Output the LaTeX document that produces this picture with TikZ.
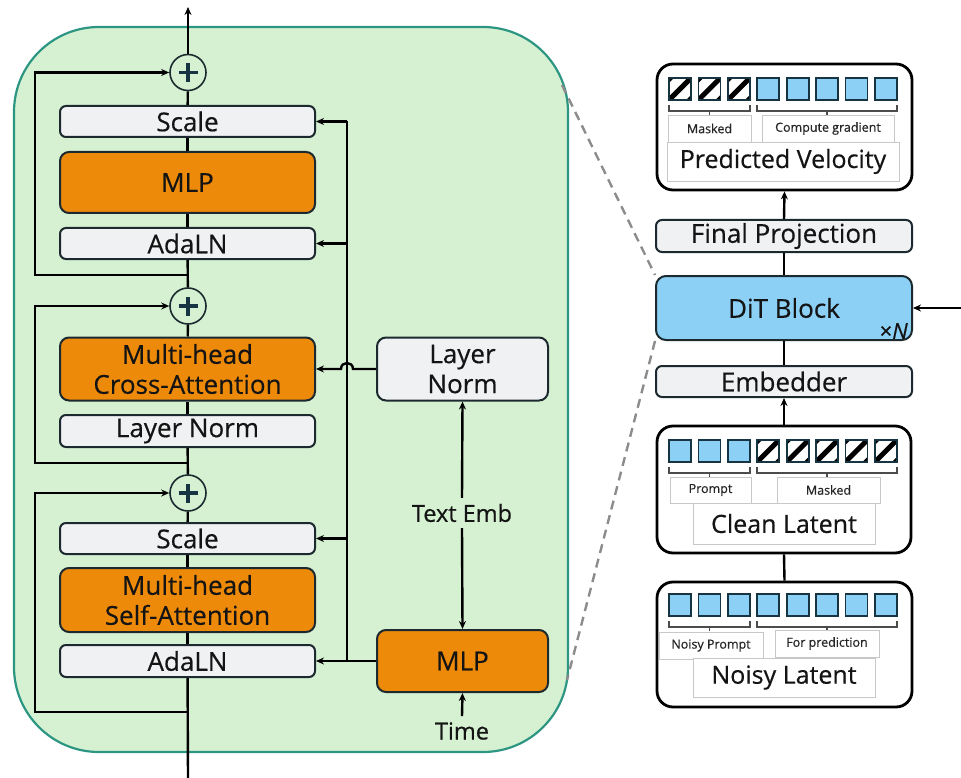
\documentclass[tikz,border=0pt]{standalone}
\usepackage{fontspec}
\setmainfont{Open Sans}
\newfontfamily\medfont{Open Sans}[FakeBold=0.45]
\usetikzlibrary{arrows.meta}

\definecolor{blkgreen}{RGB}{214,241,210}
\definecolor{blkedge}{RGB}{44,150,130}
\definecolor{orng}{RGB}{238,138,10}
\definecolor{lgray}{RGB}{240,241,243}
\definecolor{edgedark}{RGB}{28,42,48}
\definecolor{tokblue}{RGB}{140,208,245}
\definecolor{tokedge}{RGB}{22,52,66}
\definecolor{dashgray}{RGB}{140,140,140}
\definecolor{lblgray}{RGB}{200,200,200}
\definecolor{ink}{RGB}{20,20,20}

\tikzset{
  container/.style={draw=blkedge, line width=2.2pt, fill=blkgreen, rounded corners=85pt},
  base/.style={draw=edgedark, line width=2pt, rounded corners=6pt, text=ink,
    inner sep=0pt, align=center, font=\medfont\fontsize{26}{30}\selectfont},
  thinbox/.style={base, fill=lgray, minimum width=255pt, minimum height=31pt},
  tallbox/.style={base, fill=orng, minimum width=255pt, minimum height=63pt, rounded corners=9pt},
  sidebox/.style={base, minimum width=171pt, minimum height=63pt, rounded corners=9pt},
  plusnode/.style={circle, draw=edgedark, line width=1.6pt, fill=blkgreen, minimum size=36pt, inner sep=0pt,
    path picture={
      \draw[line width=3.2pt, draw=tokedge]
        ([xshift=-9.5pt]path picture bounding box.center) -- ([xshift=9.5pt]path picture bounding box.center)
        ([yshift=-9.5pt]path picture bounding box.center) -- ([yshift=9.5pt]path picture bounding box.center);}},
  conn/.style={draw=black, line width=2.4pt},
  arr/.style={conn, -{Stealth[length=8pt,width=7pt]}},
  sidelab/.style={text=ink, inner sep=6pt, font=\medfont\fontsize{23.5}{26}\selectfont},
  dashln/.style={draw=dashgray, line width=2.4pt, dash pattern=on 9pt off 6pt},
  outerbox/.style={draw=black, line width=2.8pt, fill=white, rounded corners=16pt, inner sep=0pt},
  colbox/.style={base, fill=lgray, minimum width=256pt, minimum height=32pt},
  ditbox/.style={base, fill=tokblue, minimum width=256pt, minimum height=64pt, rounded corners=10pt},
  lbl/.style={draw=lblgray, line width=0.8pt, fill=white, inner sep=0pt, text=black!85,
    font=\medfont\fontsize{12.5}{14}\selectfont},
  lblbig/.style={lbl, text=ink, font=\medfont\fontsize{25}{28}\selectfont},
  brk/.style={draw=black!70, line width=1.2pt},
}

% token squares of the latent rows
\newcommand\tokb[2]{\filldraw[fill=tokblue, draw=tokedge, line width=1.8pt] (#1,#2) rectangle ++(22,22);}
\newcommand\tokh[2]{%
  \begin{scope}
    \clip (#1,#2) rectangle ++(22,22);
    \fill[white] (#1,#2) rectangle ++(22,22);
    \draw[line width=5pt] (#1,#2+22) -- ++(22,-22);
    \draw[line width=7pt] (#1-10,#2+10) -- ++(20,-20);
    \draw[line width=7pt] (#1+12,#2+32) -- ++(20,-20);
  \end{scope}
  \draw[tokedge, line width=1.8pt] (#1,#2) rectangle ++(22,22);}
% bracket under a group of tokens
\newcommand\brkt[3]{%
  \draw[brk] (#1,#3) -- (#1,#3+6) -- (#2,#3+6) -- (#2,#3);
  \draw[brk] ({(#1+#2)/2},#3+6) -- ++(0,4);}

\begin{document}
\begin{tikzpicture}[x=1pt,y=-1pt]
\useasboundingbox (0,0) rectangle (961,778);

% ---------- DiT block (detail) ----------
\node[container, minimum width=554pt, minimum height=725pt] (blk) at (291,389.5) {};

\node[plusnode] (plus1) at (188,72.5) {};
\node[thinbox] (scale1) at (187.5,121.5) {Scale};
\node[tallbox, minimum height=61pt] (mlp1) at (187.5,182.5) {MLP};
\node[thinbox] (ada1) at (187.5,243.5) {AdaLN};
\node[plusnode] (plus2) at (188,306) {};
\node[tallbox] (cross) at (187.5,369) {Multi-head\\Cross-Attention};
\node[thinbox, minimum height=32pt] (ln1) at (187.5,431) {Layer Norm};
\node[plusnode] (plus3) at (188,493) {};
\node[thinbox] (scale2) at (187.5,538.5) {Scale};
\node[tallbox, minimum height=64pt] (self) at (187.5,600) {Multi-head\\Self-Attention};
\node[thinbox, minimum height=32pt] (ada2) at (187.5,661) {AdaLN};

\node[sidebox, fill=lgray] (lnR) at (462.5,369) {Layer\\Norm};
\node[sidebox, fill=orng, minimum height=62pt] (mlpR) at (462.5,661) {MLP};
\node[sidelab] (temb) at (462,513) {Text Emb};
\node[sidelab] (time) at (462,731) {Time};

\coordinate (spin) at (188,778);
\coordinate (topout) at (188,7);
\coordinate (ra) at (188,275);
\coordinate (rb) at (188,463);
\coordinate (rc) at (188,712);
\coordinate (bus) at (347,661);
\coordinate (bustop) at (347,121.5);

% main stream
\foreach \a/\b in {spin/ada2, ada2/self, self/scale2, scale2/plus3, plus3/ln1, ln1/cross,
                   cross/plus2, plus2/ada1, ada1/mlp1, mlp1/scale1, scale1/plus1}
  \draw[conn] (\a) -- (\b);
\draw[arr] (plus1) -- (topout);

% residual connections
\draw[arr] (ra) -- ++(-153,0) |- (plus1.west);
\draw[arr] (rb) -- ++(-153,0) |- (plus2.west);
\draw[arr] (rc) -- ++(-153,0) |- (plus3.west);

% conditioning bus
\draw[conn] (bus) -- (bustop);
\draw[arr] (bustop) -- (scale1.east);
\draw[arr] (ada1.east -| bus) -- (ada1.east);
\draw[arr] (scale2.east -| bus) -- (scale2.east);
\draw[arr] (mlpR.west) -- (ada2.east);
\draw[arr] (lnR.west) -- (353,369) .. controls (353,361) and (341,361) .. (341,369) -- (cross.east);

\draw[arr] (temb.north) -- (lnR.south);
\draw[arr] (temb.south) -- (mlpR.north);
\draw[arr] (time.north) -- (mlpR.south);

% ---------- overall pipeline ----------
\node[outerbox, minimum width=255pt, minimum height=126pt] (pv) at (784.5,127) {};
\node[colbox] (fp) at (784,236) {Final Projection};
\node[ditbox] (dit) at (784,308) {DiT Block};
\node[anchor=south east, inner sep=0pt, text=ink, font=\medfont\fontsize{22}{22}\selectfont] (xn) at (908,339) {×\textit{N}};
\node[colbox, minimum height=31pt] (emb) at (784,381.5) {Embedder};
\node[outerbox, minimum width=254pt, minimum height=127pt] (cl) at (784,489.5) {};
\node[outerbox, minimum width=255pt, minimum height=125pt] (nl) at (784.5,644.5) {};

% predicted velocity contents
\foreach \i in {0,...,7}{
  \pgfmathsetmacro\tx{669+29.4*\i}
  \ifnum\i<3 \tokh{\tx}{78}\else\tokb{\tx}{78}\fi
}
\brkt{669}{750}{105}
\brkt{757}{897}{105}
\node[lbl, minimum width=83pt, minimum height=27pt] (pvm) at (709.5,128.5) {Masked};
\node[lbl, minimum width=132pt, minimum height=27pt] (pvc) at (828,128.5) {Compute gradient};
\node[lblbig, minimum width=232pt, minimum height=39pt] (pvt) at (783,161.5) {Predicted Velocity};

% clean latent contents
\foreach \i in {0,...,7}{
  \pgfmathsetmacro\tx{669+29.4*\i}
  \ifnum\i<3 \tokb{\tx}{440}\else\tokh{\tx}{440}\fi
}
\brkt{669}{750}{467}
\brkt{757}{897}{467}
\node[lbl, minimum width=81pt, minimum height=26pt] (clp) at (710.5,490) {Prompt};
\node[lbl, minimum width=103pt, minimum height=26pt] (clm) at (828.5,490) {Masked};
\node[lblbig, minimum width=182pt, minimum height=41pt] (clt) at (784,523.5) {Clean Latent};

% noisy latent contents
\foreach \i in {0,...,7}{
  \pgfmathsetmacro\tx{669+29.4*\i}
  \tokb{\tx}{594}
}
\brkt{669}{750}{621}
\brkt{757}{897}{621}
\node[lbl, minimum width=104pt, minimum height=27pt] (nlp) at (711,645.5) {Noisy Prompt};
\node[lbl, minimum width=104pt, minimum height=27pt] (nlf) at (827,643.5) {For prediction};
\node[lblbig, minimum width=182pt, minimum height=39pt] (nlt) at (784,677.5) {Noisy Latent};

% pipeline connectors
\coordinate (din) at (961,308);
\draw[arr] (fp.north) -- (pv.south);
\draw[conn] (dit.north) -- (fp.south);
\draw[conn] (emb.north) -- (dit.south);
\draw[arr] (cl.north) -- (emb.south);
\draw[conn] (nl.north) -- (cl.south);
\draw[arr] (din) -- (dit.east);

% zoom guides
\coordinate (zt) at (562,85);
\coordinate (zb) at (567,680);
\draw[dashln] (zt) -- (dit.north west);
\draw[dashln] (dit.south west) -- (zb);
\end{tikzpicture}
\end{document}
